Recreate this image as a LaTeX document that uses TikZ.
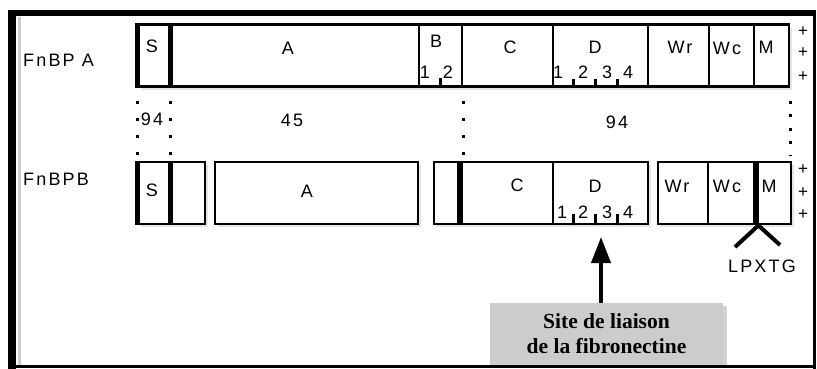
\documentclass[tikz,border=0pt]{standalone}
\usepackage{fontspec}
\setmainfont{Liberation Serif}
\newfontfamily\labfont[LetterSpace=12]{Liberation Sans}
\usetikzlibrary{arrows.meta,shadows}
\begin{document}
\begin{tikzpicture}[x=1pt,y=-1pt,
  seg/.style={draw, line width=2.4pt, fill=white, minimum height=62pt, inner sep=0pt,
    anchor=north west, drop shadow={opacity=0.2, shadow xshift=3pt, shadow yshift=-3pt}},
  lab/.style={font=\labfont\fontsize{18}{18}\selectfont, inner sep=0pt},
  plus/.style={font=\labfont\fontsize{17}{17}\selectfont, inner sep=0pt},
  divider/.style={line width=5pt},
  bigdivider/.style={line width=6.5pt},
  tickmark/.style={line width=3pt},
  dots/.style={line width=3pt, dash pattern=on 3pt off 14pt},
  dotsb/.style={line width=3pt, dash pattern=on 3pt off 10.5pt},
  vline/.style={line width=4pt},
  arrowline/.style={line width=4pt, -{Triangle[length=26pt,width=19pt]}},
  sitebox/.style={fill=gray!40, minimum width=233pt, minimum height=62pt, inner sep=0pt,
    align=center, font=\bfseries\fontsize{21.5}{25}\selectfont,
    drop shadow={opacity=0.35, shadow xshift=4pt, shadow yshift=-3pt}},
  border/.style={line width=#1}
]
\useasboundingbox (0,0) rectangle (817,369);
\fill[white] (0,0) rectangle (817,369);

% ---------- row A ----------
\node[seg, minimum width=31pt]  (aS)  at (137,23.5) {};
\node[seg, minimum width=250pt] (aA)  at (168,23.5) {};
\node[seg, minimum width=43pt]  (aB)  at (418,23.5) {};
\node[seg, minimum width=91pt]  (aC)  at (461,23.5) {};
\node[seg, minimum width=95pt]  (aD)  at (552,23.5) {};
\node[seg, minimum width=61pt]  (aWr) at (647,23.5) {};
\node[seg, minimum width=45pt]  (aWc) at (708,23.5) {};
\node[seg, minimum width=35pt]  (aM)  at (753,23.5) {};
\draw[divider] (aS.north west) -- (aS.south west);
\draw[divider] (aS.north east) -- (aS.south east);
\draw[tickmark] ([xshift=22pt]aB.south west) -- ++(0,-10);
\draw[tickmark] ([xshift=21pt]aD.south west) -- ++(0,-9);
\draw[tickmark] ([xshift=43pt]aD.south west) -- ++(0,-9);
\draw[tickmark] ([xshift=65pt]aD.south west) -- ++(0,-9);

\node[lab] (aSl)  at (152,46) {S};
\node[lab] (aAl)  at (288,48) {A};
\node[lab] (aBl)  at (436,41) {B};
\node[lab] (aB1)  at (425,72) {1};
\node[lab] (aB2)  at (448,72) {2};
\node[lab] (aCl)  at (510,47) {C};
\node[lab] (aDl)  at (595,47) {D};
\node[lab] (aD1)  at (558,72) {1};
\node[lab] (aD2)  at (583,72) {2};
\node[lab] (aD3)  at (607,72) {3};
\node[lab] (aD4)  at (628,72) {4};
\node[lab] (aWrl) at (680,47) {Wr};
\node[lab] (aWcl) at (727,48) {Wc};
\node[lab] (aMl)  at (766,47) {M};
\node[plus] (ap1) at (803,32) {+};
\node[plus] (ap2) at (803,53) {+};
\node[plus] (ap3) at (803,77) {+};
\node[lab, anchor=west] (fa) at (23,60) {FnBP A};

% ---------- row B ----------
\node[seg, minimum width=31pt]  (bS)  at (137,161) {};
\node[seg, minimum width=36pt]  (bS2) at (168,161) {};
\node[seg, minimum width=203pt] (bA)  at (214,161) {};
\node[seg, minimum width=27pt]  (bB)  at (433,161) {};
\node[seg, minimum width=92pt]  (bC)  at (460,161) {};
\node[seg, minimum width=95pt]  (bD)  at (552,161) {};
\node[seg, minimum width=50pt]  (bWr) at (657,161) {};
\node[seg, minimum width=49pt]  (bWc) at (707,161) {};
\node[seg, minimum width=34pt]  (bM)  at (756,161) {};
\draw[divider] (bS.north west) -- (bS.south west);
\draw[divider] (bS.north east) -- (bS.south east);
\draw[bigdivider] (bC.north west) -- (bC.south west);
\draw[bigdivider] (bM.north west) -- (bM.south west);
\draw[tickmark] ([xshift=21pt]bD.south west) -- ++(0,-11);
\draw[tickmark] ([xshift=43pt]bD.south west) -- ++(0,-11);
\draw[tickmark] ([xshift=65pt]bD.south west) -- ++(0,-11);

\node[lab] (bSl)  at (152,190) {S};
\node[lab] (bAl)  at (307,191) {A};
\node[lab] (bCl)  at (517,185) {C};
\node[lab] (bDl)  at (595,186) {D};
\node[lab] (bD1)  at (562,212) {1};
\node[lab] (bD2)  at (583,212) {2};
\node[lab] (bD3)  at (607,212) {3};
\node[lab] (bD4)  at (628,212) {4};
\node[lab] (bWrl) at (677,186) {Wr};
\node[lab] (bWcl) at (727,186) {Wc};
\node[lab] (bMl)  at (769,186) {M};
\node[plus] (bp1) at (803,170) {+};
\node[plus] (bp2) at (803,193) {+};
\node[plus] (bp3) at (803,215) {+};
\node[lab, anchor=west] (fb) at (23,179) {FnBPB};

% ---------- middle ----------
\draw[dots] ([yshift=-13pt]aS.south west) -- ([yshift=5pt]bS.north west);
\draw[dots] ([yshift=-13pt]aS.south east) -- ([yshift=5pt]bS.north east);
\draw[dots] ([yshift=-13pt]aB.south east) -- ([yshift=3pt]aB.south east |- bC.north);
\draw[dotsb] ([yshift=-13pt]aM.south east) -- ([yshift=5pt]aM.south east |- bM.north);
\node[lab] (n94a) at (152,119) {94};
\node[lab] (n45)  at (292,120) {45};
\node[lab] (n94b) at (617,122) {94};

% ---------- LPXTG ----------
\node[lab] (lp) at (762,266) {LPXTG};
\coordinate (vleft)  at (735,247);
\coordinate (vright) at (780,245);
\draw[vline] (vleft) -- (bWc.south east) -- (vright);

% ---------- binding site ----------
\node[sitebox] (site) at (606.5,334) {Site de liaison\\de la fibronectine};
\coordinate (tip) at (601,237);
\draw[arrowline] (tip |- site.north) -- (tip);

% ---------- frame ----------
\draw[border=3pt,gray!40] (19,17) -- (19,365);
\draw[border=6pt] (8,13) -- (816,13);
\draw[border=8pt] (12,10) -- (12,369);
\draw[border=3pt] (814.5,10) -- (814.5,369);
\draw[border=3pt] (8,366.5) -- (816,366.5);
\end{tikzpicture}
\end{document}
